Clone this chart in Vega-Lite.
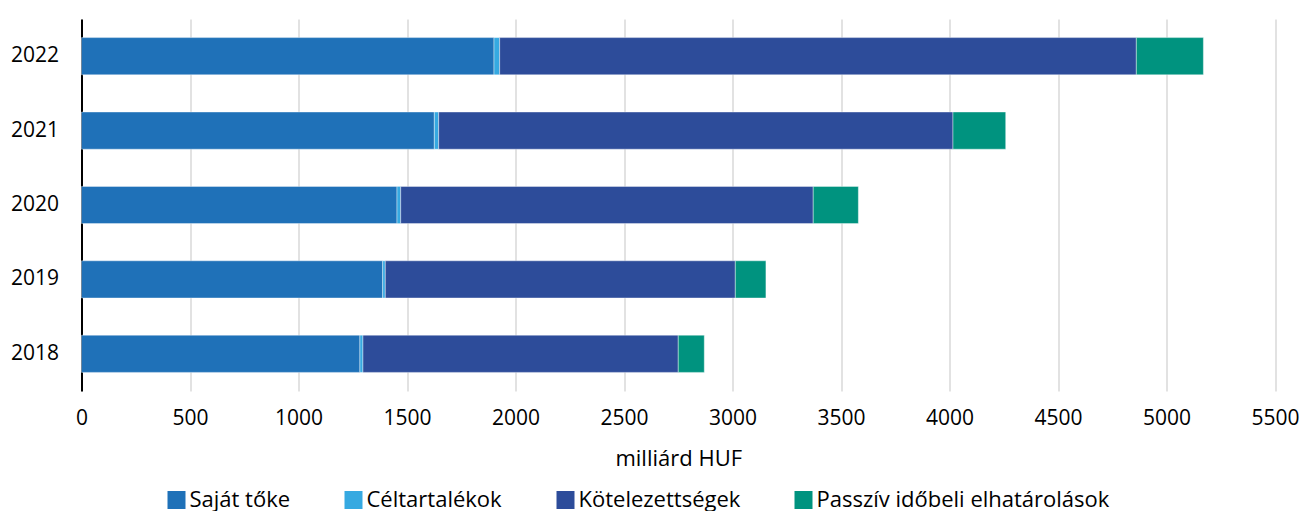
{
  "$schema": "https://vega.github.io/schema/vega-lite/v6.json",
  "autosize": {"type": "none"},
  "padding": {"left": 81.5, "top": 19, "right": 26, "bottom": 120},
  "width": 1193.5,
  "height": 372,
  "background": "white",
  "data": {
    "values": [
      {"ev": "2022", "kategoria": "Saját tőke", "sorrend": 1, "ertek": 1901},
      {"ev": "2022", "kategoria": "Céltartalékok", "sorrend": 2, "ertek": 26},
      {"ev": "2022", "kategoria": "Kötelezettségek", "sorrend": 3, "ertek": 2934},
      {"ev": "2022", "kategoria": "Passzív időbeli elhatárolások", "sorrend": 4, "ertek": 309},
      {"ev": "2021", "kategoria": "Saját tőke", "sorrend": 1, "ertek": 1626},
      {"ev": "2021", "kategoria": "Céltartalékok", "sorrend": 2, "ertek": 20},
      {"ev": "2021", "kategoria": "Kötelezettségek", "sorrend": 3, "ertek": 2370},
      {"ev": "2021", "kategoria": "Passzív időbeli elhatárolások", "sorrend": 4, "ertek": 243},
      {"ev": "2020", "kategoria": "Saját tőke", "sorrend": 1, "ertek": 1454},
      {"ev": "2020", "kategoria": "Céltartalékok", "sorrend": 2, "ertek": 17},
      {"ev": "2020", "kategoria": "Kötelezettségek", "sorrend": 3, "ertek": 1901},
      {"ev": "2020", "kategoria": "Passzív időbeli elhatárolások", "sorrend": 4, "ertek": 208},
      {"ev": "2019", "kategoria": "Saját tőke", "sorrend": 1, "ertek": 1388},
      {"ev": "2019", "kategoria": "Céltartalékok", "sorrend": 2, "ertek": 12},
      {"ev": "2019", "kategoria": "Kötelezettségek", "sorrend": 3, "ertek": 1613},
      {"ev": "2019", "kategoria": "Passzív időbeli elhatárolások", "sorrend": 4, "ertek": 141},
      {"ev": "2018", "kategoria": "Saját tőke", "sorrend": 1, "ertek": 1283},
      {"ev": "2018", "kategoria": "Céltartalékok", "sorrend": 2, "ertek": 14},
      {"ev": "2018", "kategoria": "Kötelezettségek", "sorrend": 3, "ertek": 1453},
      {"ev": "2018", "kategoria": "Passzív időbeli elhatárolások", "sorrend": 4, "ertek": 120}
    ]
  },
  "mark": {"type": "bar", "stroke": "white", "strokeWidth": 0.8, "strokeOpacity": 0.5},
  "encoding": {
    "y": {
      "field": "ev",
      "type": "ordinal",
      "sort": "descending",
      "scale": {"paddingInner": 0.5, "paddingOuter": 0.25},
      "axis": {
        "title": null,
        "domain": true,
        "domainColor": "black",
        "domainWidth": 2,
        "ticks": false,
        "labelPadding": 23,
        "labelFont": "Open Sans",
        "labelFontSize": 21,
        "labelColor": "black",
        "grid": false
      }
    },
    "x": {
      "field": "ertek",
      "type": "quantitative",
      "stack": "zero",
      "scale": {"domain": [0, 5500], "nice": false},
      "axis": {
        "title": "milliárd HUF",
        "titleFont": "Open Sans",
        "titleFontSize": 22,
        "titleFontWeight": "normal",
        "titleColor": "black",
        "titlePadding": 20,
        "values": [0, 500, 1000, 1500, 2000, 2500, 3000, 3500, 4000, 4500, 5000, 5500],
        "format": "d",
        "domain": false,
        "ticks": false,
        "labelPadding": 16,
        "labelFont": "Open Sans",
        "labelFontSize": 21,
        "labelColor": "black",
        "labelFlush": false,
        "labelOverlap": false,
        "grid": true,
        "gridColor": "#d9d9d9",
        "gridWidth": 1.5
      }
    },
    "color": {
      "field": "kategoria",
      "type": "nominal",
      "sort": ["Saját tőke", "Céltartalékok", "Kötelezettségek", "Passzív időbeli elhatárolások"],
      "scale": {
        "domain": ["Saját tőke", "Céltartalékok", "Kötelezettségek", "Passzív időbeli elhatárolások"],
        "range": ["#1f71b8", "#36a9e1", "#2d4c9a", "#00937f"]
      },
      "legend": {
        "title": null,
        "orient": "none",
        "legendX": 84,
        "legendY": 470,
        "direction": "horizontal",
        "symbolType": "square",
        "symbolSize": 324,
        "symbolStrokeWidth": 0,
        "labelFont": "Open Sans",
        "labelFontSize": 22,
        "labelColor": "black",
        "labelOffset": 2,
        "columnPadding": 52,
        "labelLimit": 500
      }
    },
    "order": {"field": "sorrend", "type": "quantitative"}
  },
  "config": {"view": {"stroke": null}}
}
